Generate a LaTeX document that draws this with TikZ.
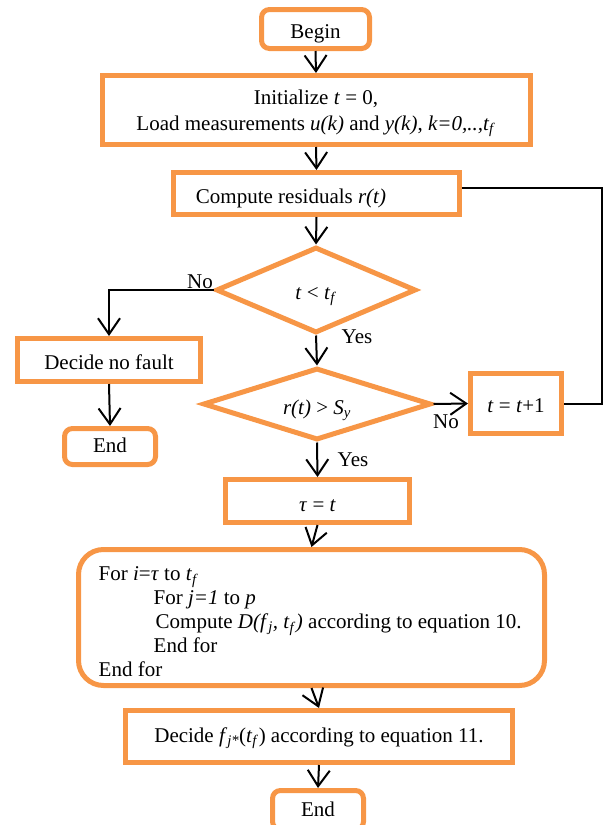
\documentclass[tikz,border=0pt]{standalone}
\usepackage{fontspec}
\setmainfont{Liberation Serif}
\usetikzlibrary{arrows.meta,shapes.geometric}
\definecolor{boxorange}{RGB}{247,150,70}
\newcommand{\ti}[1]{\textit{#1}}
\newcommand{\tsb}[1]{\textsubscript{\textit{#1}}}
\newcommand{\dn}[2]{\raisebox{-#1pt}[0pt][0pt]{#2}}
\begin{document}
\begin{tikzpicture}[x=1pt,y=-1pt,
  font=\fontsize{21}{24}\selectfont,
  box/.style={draw=boxorange,line width=5pt,inner sep=0pt,align=center},
  rbox/.style={box,rounded corners=8pt},
  dia/.style={draw=boxorange,line width=5pt,diamond,inner sep=0pt},
  arr/.style={draw,line width=2pt,-{Straight Barb[length=16pt,width=22pt]}},
  conn/.style={draw,line width=2pt},
  lbl/.style={inner sep=0pt}]
\useasboundingbox (0,0) rectangle (605,825);

\node[rbox,minimum width=108pt,minimum height=39pt] (begin) at (315.5,29) {\dn{9}{Begin}};
\node[box,minimum width=428pt,minimum height=69pt] (init) at (316,110) {};
\node[lbl,align=center,font=\fontsize{21}{26}\selectfont] (inittxt) at (316,113)
  {Initialize \ti{t} = 0,\\ Load measurements \ti{u(k)} and \ti{y(k)}, \ti{k=0,..,t}\tsb{f}};
\node[box,minimum width=286pt,minimum height=42pt] (comp) at (316.5,193.5) {};
\node[lbl] (comptxt) at (291,198) {Compute residuals \ti{r(t)}};
\node[dia,minimum width=200pt,minimum height=86pt,aspect=2.33] (d1) at (316,290) {\dn{9}{\ti{t} < \ti{t}\tsb{f}}};
\node[box,minimum width=183pt,minimum height=43pt] (nofault) at (109,360) {\dn{9}{Decide no fault}};
\node[rbox,minimum width=91pt,minimum height=36pt] (end1) at (110,446.5) {\dn{6}{End}};
\node[dia,minimum width=228pt,minimum height=72pt,aspect=3.17] (d2) at (317,404) {\dn{10}{\ti{r(t)} > \ti{S}\tsb{y}}};
\node[box,minimum width=91pt,minimum height=60pt] (inc) at (516,403.5) {\dn{9}{\ti{t} = \ti{t}+1}};
\node[box,minimum width=184pt,minimum height=43pt] (tau) at (317.5,501) {\dn{10}{\ti{τ} = \ti{t}}};
\node[box,rounded corners=25pt,minimum width=466pt,minimum height=136pt] (loop) at (311.5,617.5) {};
\node[lbl,anchor=west,align=left] (looptxt) at (98.5,622)
  {For \ti{i}=\ti{τ} to \ti{t}\tsb{f}\\
   \hspace*{55pt}For \ti{j=1} to \ti{p}\\
   \hspace*{57pt}Compute \ti{D(f}\tsb{j}\ti{, t}\tsb{f}\ti{)} according to equation 10.\\
   \hspace*{55pt}End for\\
   End for};
\node[box,minimum width=387pt,minimum height=52pt] (decide) at (319,736.5)
  {\dn{6}{Decide \ti{f}\tsb{j*}(\ti{t}\tsb{f}) according to equation 11.}};
\node[rbox,minimum width=91pt,minimum height=39pt] (end2) at (318,810) {\dn{6}{End}};

\coordinate (lp) at (602,188);

\draw[arr] (begin.south) -- (init.north);
\draw[arr] (init.south) -- (comp.north);
\draw[arr] (comp.south) -- (d1.north);
\draw[arr] (d1.west) -| (nofault.north);
\draw[arr] (nofault.south) -- (end1.north);
\draw[arr] (d1.south) -- (d2.north);
\draw[arr] (d2.east) -- (inc.west);
\draw[conn] (inc.east) -| (lp) -- (lp -| comp.east);
\draw[arr] (d2.south) -- (tau.north);
\draw[arr] (tau.south) -- (loop.north);
\draw[arr] (loop.south) -- (decide.north);
\draw[arr] (decide.south) -- (end2.north);

\node[lbl] (no1) at (200,282) {No};
\node[lbl] (yes1) at (357,337) {Yes};
\node[lbl] (no2) at (446,422) {No};
\node[lbl] (yes2) at (353,460) {Yes};
\end{tikzpicture}
\end{document}
